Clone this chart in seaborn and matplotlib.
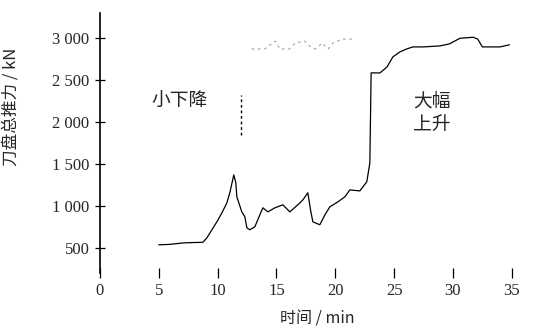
import matplotlib
matplotlib.use("Agg")
import matplotlib.pyplot as plt
import seaborn as sns
import pandas as pd

# Main monitoring curve
time_vals = [5.0, 5.9, 7.2, 8.75, 9.09, 9.52, 9.94, 10.37, 10.79, 11.04, 11.38, 11.55,
             11.64, 12.06, 12.32, 12.49, 12.74, 13.17, 13.59, 13.85, 14.27, 14.87,
             15.55, 16.14, 16.82, 17.25, 17.67, 17.93, 18.10, 18.69, 19.12, 19.54,
             20.22, 20.82, 21.24, 22.09, 22.68, 22.94, 23.05, 23.8, 24.4, 24.9, 25.5,
             26.1, 26.6, 27.5, 28.9, 29.7, 30.6, 31.7, 32.1, 32.5, 33.3, 34.0, 34.8]
force_vals = [535, 540, 559, 565, 618, 714, 809, 917, 1035, 1155, 1369, 1274,
              1107, 928, 869, 738, 714, 750, 892, 976, 928, 976,
              1012, 928, 1012, 1071, 1155, 928, 809, 774, 892, 988,
              1047, 1107, 1190, 1178, 1286, 1512, 2585, 2585, 2656, 2776, 2836,
              2872, 2895, 2895, 2907, 2931, 2998, 3010, 2990, 2895, 2895, 2895, 2920]

# Faint upper reference series
ref_time = [12.9, 14.0, 14.9, 15.3, 16.1, 16.6, 17.4, 17.9, 18.3, 18.9, 19.4, 19.8, 20.6, 21.5]
ref_vals = [2870, 2870, 2965, 2870, 2870, 2941, 2965, 2894, 2870, 2941, 2870, 2941, 2988, 2988]

x_ticks = [0, 5, 10, 15, 20, 25, 30, 35]
y_ticks = [500, 1000, 1500, 2000, 2500, 3000]
y_ticklabels = ["500", "1 000", "1 500", "2 000", "2 500", "3 000"]

sns.set_theme(style="ticks")
plt.rcParams["font.family"] = ["Liberation Serif", "Noto Sans CJK SC", "DejaVu Sans"]
plt.rcParams["axes.unicode_minus"] = False

fig = plt.figure(figsize=(5.37, 3.32), dpi=100)
ax = fig.add_axes([0.186, 0.178, 0.767, 0.783])

main_df = pd.DataFrame({"t": time_vals, "v": force_vals})
ref_df = pd.DataFrame({"t": ref_time, "v": ref_vals})

sns.lineplot(data=ref_df, x="t", y="v", ax=ax, color="#a8a8a8", lw=0.9,
             linestyle=(0, (2, 3)), sort=False)
sns.lineplot(data=main_df, x="t", y="v", ax=ax, color="black", lw=0.9, sort=False)

# Arrow marker above the first peak
ax.plot([12.0, 12.0], [1846, 2323], color="black", lw=1.0, linestyle=(0, (2, 2)))

cjk = ["Noto Sans CJK SC", "DejaVu Sans"]
ax.text(6.8, 2239, "小下降", ha="center", va="center", fontsize=13.5, family=cjk)
ax.text(28.2, 2110, "大幅\n上升", ha="center", va="center", fontsize=13.5,
        family=cjk, linespacing=1.15)

ax.set_xlim(0, 35)
ax.set_ylim(200, 3300)
ax.set_xticks(x_ticks)
ax.set_yticks(y_ticks)
ax.set_yticklabels(y_ticklabels)
ax.tick_params(axis="both", which="major", direction="inout", length=7, width=0.9,
               labelsize=12, pad=4, color="black",
               bottom=True, left=True, top=False, right=False)

ax.set_xlabel("时间 / min", fontsize=11.5, family=cjk)
ax.xaxis.set_label_coords(0.529, -0.145)
ax.set_ylabel("刀盘总推力 / kN", fontsize=12, family=cjk)
ax.yaxis.set_label_coords(-0.194, 0.64)

for side in ["top", "right", "bottom"]:
    ax.spines[side].set_visible(False)
ax.spines["left"].set_color("black")
ax.spines["left"].set_linewidth(1.2)

fig.savefig("out.png", dpi=100)
